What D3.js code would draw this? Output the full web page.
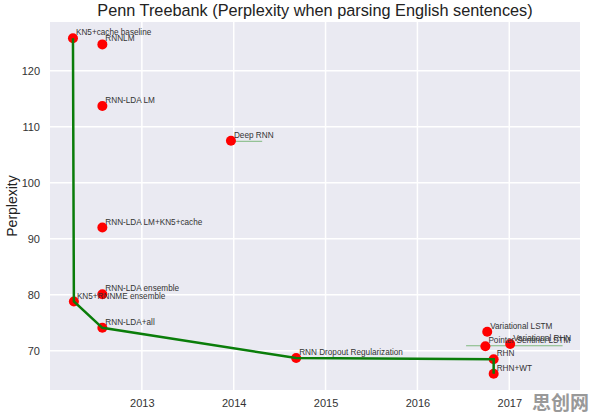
<!DOCTYPE html>
<html>
<head>
<meta charset="utf-8">
<script src="https://cdn.jsdelivr.net/npm/d3@7"></script>
<style>
	body { margin: 0; background: #fff; }
	svg text { font-family: "Liberation Sans", Arial, sans-serif; }
</style>
</head>
<body>
<div id="graph"></div>
<script>
// models, publication date (decimal year) and test perplexity
var models = ["KN5+cache baseline", "RNNLM", "RNN-LDA LM", "Deep RNN", "RNN-LDA LM+KN5+cache",
		"RNN-LDA ensemble", "KN5+RNNME ensemble", "RNN-LDA+all", "RNN Dropout Regularization",
		"Variational LSTM", "Pointer Sentinel LSTM", "Variational RHN", "RHN", "RHN+WT"],
	years = [2012.25, 2012.57, 2012.57, 2013.97, 2012.57,
		2012.57, 2012.26, 2012.57, 2014.68,
		2016.76, 2016.74, 2017.01, 2016.83, 2016.83],
	perplexity = [125.8, 124.7, 113.7, 107.5, 92.0,
		80.1, 78.8, 74.1, 68.7,
		73.4, 70.8, 71.2, 68.5, 65.9];

// state of the art over time
var frontier = ["KN5+cache baseline", "KN5+RNNME ensemble", "RNN-LDA+all", "RNN Dropout Regularization", "RHN", "RHN+WT"];

// thin horizontal ranges [from, to, perplexity]
var ranges = [[2013.97, 2014.31, 107.4], [2016.53, 2017.58, 70.9]];

var xTicks = [2013, 2014, 2015, 2016, 2017],
	yTicks = [70, 80, 90, 100, 110, 120];

var	SVGwidth = 596,
	SVGheight = 417,
	margin = {top: 22, right: 16, bottom: 27, left: 50},
	width = SVGwidth - margin.left - margin.right,
	height = SVGheight - margin.top - margin.bottom;

var svg = d3.select('div#graph')
		.append('svg')
		.attr('width', SVGwidth)
		.attr('height', SVGheight);

var x = d3.scaleLinear()
		.domain([2012.0, 2017.77])
		.range([0, width]),
	y = d3.scaleLinear()
		.domain([63.0, 128.7])
		.range([height, 0]);

var g = svg.append("g")
		.attr("transform", "translate(" + margin.left + "," + margin.top + ")");

g.append("rect")
	.attr("width", width)
	.attr("height", height)
	.attr("fill", "#eaeaf2");

// grid
g.selectAll(".xgrid")
	.data(xTicks).enter()
	.append("line")
	.attr("x1", function(d){ return x(d); })
	.attr("x2", function(d){ return x(d); })
	.attr("y1", 0)
	.attr("y2", height)
	.attr("stroke", "#fff")
	.attr("stroke-width", 1.5);

g.selectAll(".ygrid")
	.data(yTicks).enter()
	.append("line")
	.attr("x1", 0)
	.attr("x2", width)
	.attr("y1", function(d){ return y(d); })
	.attr("y2", function(d){ return y(d); })
	.attr("stroke", "#fff")
	.attr("stroke-width", 1.5);

// axes
var xAxis = g.append("g")
	.attr("transform", "translate(0," + height + ")")
	.call(d3.axisBottom(x).tickValues(xTicks).tickFormat(d3.format("d")).tickSize(0).tickPadding(9));
var yAxis = g.append("g")
	.call(d3.axisLeft(y).tickValues(yTicks).tickSize(0).tickPadding(10));

[xAxis, yAxis].forEach(function(a){
	a.select(".domain").remove();
	a.selectAll("text")
		.attr("fill", "#333")
		.style("font-size", "11px");
});

// thin ranges
g.selectAll(".range")
	.data(ranges).enter()
	.append("line")
	.attr("x1", function(d){ return x(d[0]); })
	.attr("x2", function(d){ return x(d[1]); })
	.attr("y1", function(d){ return y(d[2]); })
	.attr("y2", function(d){ return y(d[2]); })
	.attr("stroke", "#7fb87f")
	.attr("stroke-width", 1);

var points = models.map(function(m, i){ return {name: m, year: years[i], ppl: perplexity[i]}; });

// markers
g.selectAll(".dot")
	.data(points).enter()
	.append("circle")
	.attr("cx", function(d){ return x(d.year); })
	.attr("cy", function(d){ return y(d.ppl); })
	.attr("r", 5)
	.attr("fill", "#f00");

// frontier line
var line = d3.line()
		.x(function(d){ return x(d.year); })
		.y(function(d){ return y(d.ppl); });

g.append("path")
	.datum(frontier.map(function(n){ return points[models.indexOf(n)]; }))
	.attr("d", line)
	.attr("fill", "none")
	.attr("stroke", "#0a7d0a")
	.attr("stroke-width", 2.5);

g.selectAll(".label")
	.data(points).enter()
	.append("text")
	.attr("x", function(d){ return x(d.year) + 3; })
	.attr("y", function(d){ return y(d.ppl) - 3; })
	.attr("fill", "#333")
	.style("font-size", "8.2px")
	.text(function(d){ return d.name; });

// titles
svg.append("text")
	.attr("x", margin.left + width / 2)
	.attr("y", 16)
	.attr("text-anchor", "middle")
	.attr("fill", "#222")
	.style("font-size", "16.3px")
	.text("Penn Treebank (Perplexity when parsing English sentences)");

svg.append("text")
	.attr("transform", "translate(17," + (margin.top + height / 2) + ") rotate(-90)")
	.attr("text-anchor", "middle")
	.attr("fill", "#222")
	.style("font-size", "14px")
	.text("Perplexity");

// watermark
svg.append("text")
	.attr("x", 589)
	.attr("y", 410)
	.attr("text-anchor", "end")
	.attr("fill", "#999")
	.style("font-family", "'Noto Sans CJK SC', sans-serif")
	.style("font-weight", "bold")
	.style("font-size", "19px")
	.text("思创网");
</script>
</body>
</html>
